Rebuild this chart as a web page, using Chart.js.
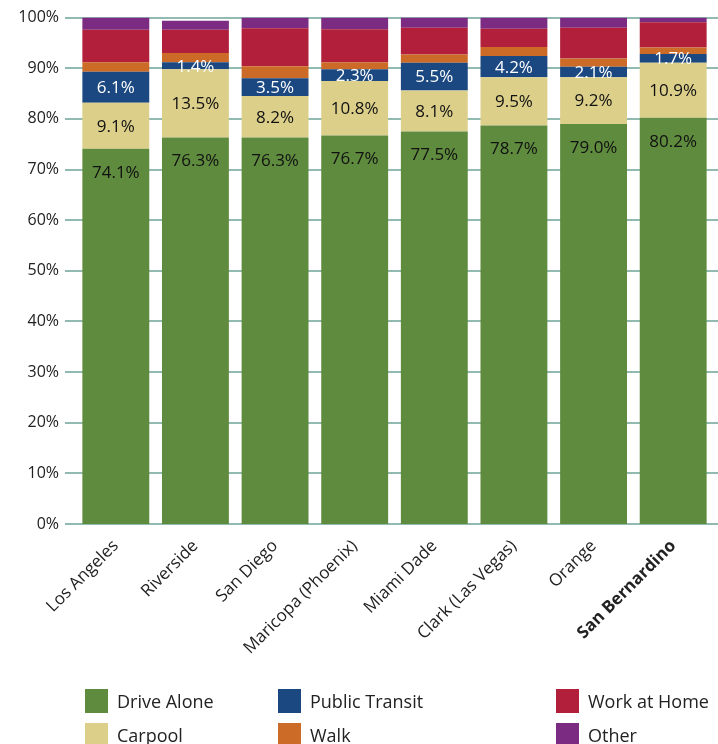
<!DOCTYPE html>
<html><head><meta charset="utf-8">
<script src="https://cdn.jsdelivr.net/npm/chart.js@4"></script>
<style>
html,body{margin:0;padding:0;background:#fff;}
#wrap{position:relative;width:718px;height:744px;overflow:hidden;font-family:"Open Sans",sans-serif;}
#c{position:absolute;left:0;top:-1px;}
.lg{position:absolute;font-size:18px;color:#222;display:flex;align-items:center;height:24px;}
.lg span.b{display:inline-block;width:23px;height:24px;margin-right:9px;}
</style></head>
<body><div id="wrap"><canvas id="c" width="718" height="693"></canvas><div id="legend"></div></div>
<script>
const categories = ["Los Angeles","Riverside","San Diego","Maricopa (Phoenix)","Miami Dade","Clark (Las Vegas)","Orange","San Bernardino"];
const driveAlone   = [74.1, 76.3, 76.3, 76.7, 77.5, 78.7, 79.0, 80.2];
const carpool      = [9.1, 13.5, 8.2, 10.8, 8.1, 9.5, 9.2, 10.9];
const publicTransit= [6.1, 1.4, 3.5, 2.3, 5.5, 4.2, 2.1, 1.7];
const walk         = [1.9, 1.8, 2.4, 1.4, 1.6, 1.8, 1.6, 1.3];
const workAtHome   = [6.4, 4.6, 7.5, 6.5, 5.3, 3.6, 6.1, 5.0];
const other        = [2.4, 1.8, 2.1, 2.3, 2.0, 2.2, 2.0, 0.9];
const yTicks = [0,10,20,30,40,50,60,70,80,90,100];

const series = [
  {label:"Drive Alone", data:driveAlone, color:"#5f8b3e", labelColor:"#111", anchor:"top"},
  {label:"Carpool", data:carpool, color:"#dbcf8a", labelColor:"#111", anchor:"center"},
  {label:"Public Transit", data:publicTransit, color:"#1b4880", labelColor:"#fff", anchor:"center"},
  {label:"Walk", data:walk, color:"#cc6a28", labelColor:null},
  {label:"Work at Home", data:workAtHome, color:"#b11f3b", labelColor:null},
  {label:"Other", data:other, color:"#7b2c82", labelColor:null}
];

const gridPlugin = {
  id:"grid",
  beforeDatasetsDraw(chart){
    const ctx = chart.ctx, y = chart.scales.y;
    ctx.save();
    ctx.strokeStyle = "#93bab0";
    ctx.lineWidth = 2;
    yTicks.forEach(v=>{
      const py = Math.round(y.getPixelForValue(v));
      ctx.beginPath(); ctx.moveTo(65, py); ctx.lineTo(718, py); ctx.stroke();
    });
    ctx.restore();
  }
};
const labelPlugin = {
  id:"vals",
  afterDatasetsDraw(chart){
    const ctx = chart.ctx;
    ctx.save();
    ctx.font = '17px "Open Sans", sans-serif';
    ctx.textAlign = "center"; ctx.textBaseline = "middle";
    chart.data.datasets.forEach((ds,di)=>{
      const s = series[di];
      if(!s.labelColor) return;
      const meta = chart.getDatasetMeta(di);
      meta.data.forEach((bar,i)=>{
        const p = bar.getProps(["x","y","base"],true);
        ctx.fillStyle = s.labelColor;
        const ty = s.anchor==="top" ? p.y+24 : (p.y+p.base)/2+1;
        ctx.fillText(ds.data[i].toFixed(1)+"%", p.x, ty);
      });
    });
    ctx.restore();
  }
};

new Chart(document.getElementById("c"),{
  type:"bar",
  data:{labels:categories, datasets:series.map(s=>({label:s.label,data:s.data,backgroundColor:s.color,borderWidth:0,barPercentage:0.84,categoryPercentage:1}))},
  options:{
    responsive:false, animation:false,
    layout:{padding:{top:4,right:5,left:0,bottom:0}},
    plugins:{legend:{display:false},tooltip:{enabled:false}},
    scales:{
      x:{stacked:true, grid:{display:false}, border:{display:false},
         afterFit(s){ s.height = 168; },
         ticks:{minRotation:45,maxRotation:45,color:"#222",padding:4,autoSkip:false,
           font:(c)=>({family:'"Open Sans", sans-serif',size:17,weight:c.index===7?'bold':'normal'})}},
      y:{stacked:true, min:0, max:100, afterFit(s){ s.width = 76; },
         afterBuildTicks(s){ s.ticks = yTicks.map(v=>({value:v})); },
         grid:{display:false}, border:{display:false},
         ticks:{padding:9,color:"#222",font:{family:'"Open Sans", sans-serif',size:16},callback:v=>v+"%"}}
    }
  },
  plugins:[gridPlugin,labelPlugin]
});

const leg = document.getElementById("legend");
const pos = [[85,689],[85,723],[278,689],[278,723],[556,689],[556,723]];
series.forEach((s,k)=>{
  const d = document.createElement("div");
  d.className="lg"; d.style.left=pos[k][0]+"px"; d.style.top=pos[k][1]+"px";
  d.innerHTML = '<span class="b" style="background:'+s.color+'"></span>'+s.label;
  leg.appendChild(d);
});
</script></body></html>
